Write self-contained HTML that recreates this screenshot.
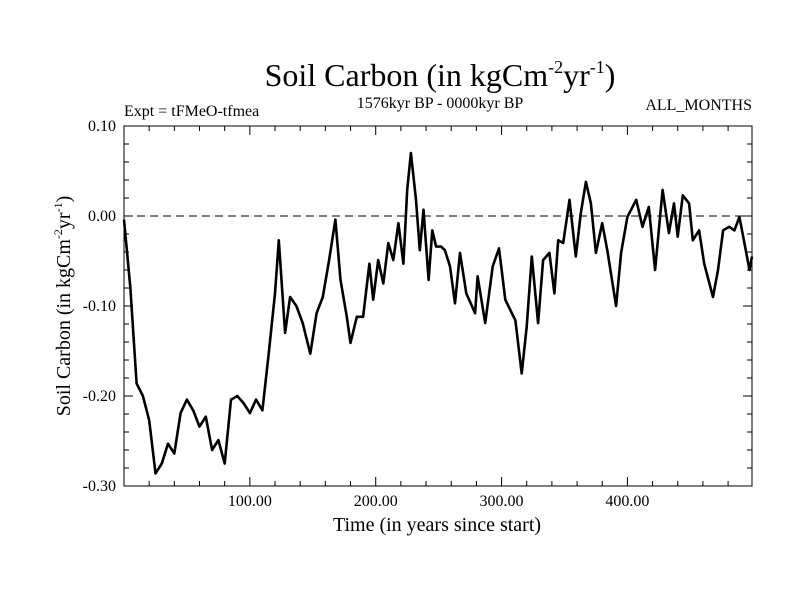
<!DOCTYPE html>
<html><head><meta charset="utf-8"><style>
body{margin:0;background:#fff;}
svg text{font-family:"Liberation Serif",serif;fill:#000;}
</style></head><body>
<svg width="800" height="600" xmlns="http://www.w3.org/2000/svg">
<text x="440" y="86" font-size="32" text-anchor="middle">Soil Carbon (in kgCm<tspan font-size="18" dy="-13">-2</tspan><tspan dy="13">yr</tspan><tspan font-size="18" dy="-13">-1</tspan><tspan dy="13">)</tspan></text>
<text x="124" y="116" font-size="16">Expt = tFMeO-tfmea</text>
<text x="440" y="108" font-size="16" text-anchor="middle">1576kyr BP - 0000kyr BP</text>
<text x="752" y="110" font-size="16" text-anchor="end">ALL_MONTHS</text>
<g id="axes"></g>
<text x="437" y="531" font-size="20" text-anchor="middle">Time (in years since start)</text>
<text transform="translate(70,306) rotate(-90)" font-size="20" text-anchor="middle">Soil Carbon (in kgCm<tspan font-size="12" dy="-8">-2</tspan><tspan dy="8">yr</tspan><tspan font-size="12" dy="-8">-1</tspan><tspan dy="8">)</tspan></text>
</svg>
<script>
const years=[0,5,10,15,20,25,30,35,40,45,50,55,60,65,70,75,80,85,90,95,100,105,110,115,120,123,128,132,137,142,148,153,158,163,168,172,177,180,185,190,195,198,202,206,210,214,218,222,225,228,232,235,238,242,245,248,252,255,259,263,267,272,279,281,287,293,298,303,311,316,320,324,329,333,338,342,345,349,354,359,363,367,371,375,380,384,391,395,400,407,412,417,422,428,433,437,440,444,449,452,457,461,468,472,476,481,485,489,493,497,499];
const values=[-0.004,-0.079,-0.186,-0.2,-0.227,-0.286,-0.275,-0.253,-0.264,-0.219,-0.204,-0.216,-0.234,-0.223,-0.26,-0.249,-0.275,-0.204,-0.2,-0.208,-0.219,-0.204,-0.216,-0.153,-0.086,-0.027,-0.13,-0.09,-0.1,-0.119,-0.153,-0.108,-0.09,-0.049,-0.004,-0.071,-0.112,-0.141,-0.112,-0.112,-0.053,-0.093,-0.049,-0.075,-0.03,-0.049,-0.008,-0.053,0.029,0.07,0.018,-0.038,0.007,-0.071,-0.016,-0.034,-0.034,-0.038,-0.056,-0.097,-0.041,-0.086,-0.108,-0.067,-0.119,-0.056,-0.036,-0.093,-0.116,-0.175,-0.123,-0.045,-0.119,-0.049,-0.041,-0.086,-0.027,-0.03,0.018,-0.045,0.003,0.038,0.014,-0.041,-0.008,-0.038,-0.1,-0.041,-0.001,0.018,-0.012,0.01,-0.06,0.029,-0.019,0.014,-0.023,0.023,0.014,-0.027,-0.016,-0.053,-0.09,-0.06,-0.016,-0.012,-0.016,-0.001,-0.03,-0.06,-0.045];
const xTicks=[100,200,300,400];
const xTickLabels=["100.00","200.00","300.00","400.00"];
const yTicks=[0.1,0,-0.1,-0.2,-0.3];
const yTickLabels=["0.10","0.00","-0.10","-0.20","-0.30"];
const L=124,R=752,T=126,B=486,X0=0,X1=499,Y0=-0.3,Y1=0.1;
const sx=v=>L+(v-X0)/(X1-X0)*(R-L);
const sy=v=>B-(v-Y0)/(Y1-Y0)*(B-T);
const NS="http://www.w3.org/2000/svg";
const g=document.getElementById('axes');
function mk(t,a){const e=document.createElementNS(NS,t);for(const k in a)e.setAttribute(k,a[k]);g.appendChild(e);return e;}
let e=mk('rect',{x:L,y:T,width:R-L,height:B-T,fill:'none',stroke:'#000','stroke-width':1});


e=mk('line',{x1:L,x2:R,y1:sy(0),y2:sy(0),stroke:'#000','stroke-width':1,'stroke-dasharray':'8,5'});


let d='';
for(let v=20;v<X1;v+=20){const x=sx(v);const len=(v%100===0)?9:5;d+=`M${x},${B}v${-len}M${x},${T}v${len}`;}
for(let i=0;i<=20;i++){const v=Y0+i*0.02;const y=sy(v);const len=(i%5===0)?9:5;d+=`M${L},${y}h${len}M${R},${y}h${-len}`;}
e=mk('path',{d:d,stroke:'#000','stroke-width':1,fill:'none'});


xTicks.forEach((v,i)=>{const t=mk('text',{x:sx(v),y:506,'font-size':16,'text-anchor':'middle'});t.textContent=xTickLabels[i];

});
yTicks.forEach((v,i)=>{const t=mk('text',{x:116,y:sy(v)+5,'font-size':16,'text-anchor':'end'});t.textContent=yTickLabels[i];

});
let p=years.map((yr,i)=>(i?'L':'M')+sx(yr).toFixed(1)+','+sy(values[i]).toFixed(1)).join('');
e=mk('path',{d:p,stroke:'#000','stroke-width':2.6,fill:'none','stroke-linejoin':'round'});


</script>
</body></html>
